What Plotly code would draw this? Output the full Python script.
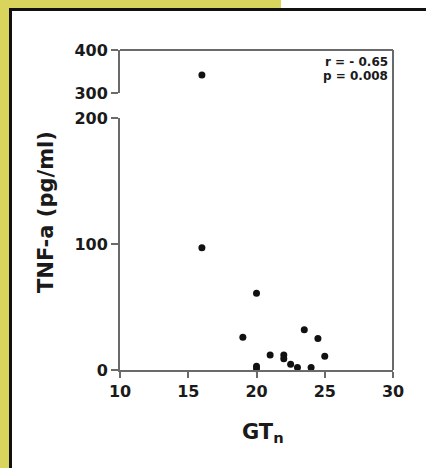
import plotly.graph_objects as go

# Data
gt_n = [16, 16, 20, 19, 23.5, 24.5, 21, 22, 22, 25, 22.5, 23, 24, 20, 20]
tnf_a = [342, 97, 61, 26, 32, 25, 12, 12, 9, 11, 4.5, 2, 2, 3, 1]
x_ticks = [10, 15, 20, 25, 30]
y_low_ticks = [0, 100, 200]
y_high_ticks = [300, 400]
stats_text = ["r = - 0.65", "p = 0.008"]
x_title = "GT<sub>n</sub>"
y_title = "TNF-a (pg/ml)"

W, H = 426, 468
def px(x):
    return x / W
def py(y):
    return 1 - y / H

x_left, x_right = 120, 393
y_top, y_break_hi, y_break_lo, y_bottom = 50, 93, 118, 370

low_x = [x for x, y in zip(gt_n, tnf_a) if y <= 200]
low_y = [y for y in tnf_a if y <= 200]
high_x = [x for x, y in zip(gt_n, tnf_a) if y > 200]
high_y = [y for y in tnf_a if y > 200]

font = dict(family="DejaVu Sans, Arial, sans-serif", color="#1a1a1a", weight="bold")
axcol = "#6a6a6a"

fig = go.Figure()
fig.add_trace(go.Scatter(x=low_x, y=low_y, mode="markers", xaxis="x", yaxis="y",
                         marker=dict(color="#111", size=7), cliponaxis=False, showlegend=False))
fig.add_trace(go.Scatter(x=high_x, y=high_y, mode="markers", xaxis="x", yaxis="y2",
                         marker=dict(color="#111", size=7), cliponaxis=False, showlegend=False))

common = dict(showgrid=False, zeroline=False, showline=True, linecolor=axcol, linewidth=2,
              ticks="outside", tickwidth=2, tickcolor=axcol, automargin=False,
              tickfont=dict(size=16, **font))

fig.update_layout(
    width=W, height=H, margin=dict(l=0, r=0, t=0, b=0, pad=0, autoexpand=False),
    template="none",
    paper_bgcolor="white", plot_bgcolor="white",
    xaxis=dict(domain=[px(x_left), px(x_right)], range=[10, 30], tickvals=x_ticks,
               ticklen=6, anchor="y", **common),
    yaxis=dict(domain=[py(y_bottom), py(y_break_lo)], range=[0, 200], tickvals=y_low_ticks,
               ticklen=7, anchor="x", **common),
    yaxis2=dict(domain=[py(y_break_hi), py(y_top)], range=[300, 400], tickvals=y_high_ticks,
                ticklen=7, anchor="x", **common),
)

shapes = [
    # yellow frame pieces
    dict(type="rect", xref="paper", yref="paper", x0=0, x1=px(9), y0=0, y1=1,
         fillcolor="#d8d45c", line=dict(width=0)),
    dict(type="rect", xref="paper", yref="paper", x0=0, x1=px(281), y0=py(8), y1=1,
         fillcolor="#d8d45c", line=dict(width=0)),
    # black border
    dict(type="rect", xref="paper", yref="paper", x0=px(9), x1=px(12), y0=0, y1=py(8),
         fillcolor="#111", line=dict(width=0)),
    dict(type="rect", xref="paper", yref="paper", x0=px(9), x1=1, y0=py(11), y1=py(8),
         fillcolor="#111", line=dict(width=0)),
    # plot frame top and right
    dict(type="line", xref="paper", yref="paper", x0=px(x_left), x1=px(x_right),
         y0=py(y_top), y1=py(y_top), line=dict(color=axcol, width=2)),
    dict(type="line", xref="paper", yref="paper", x0=px(x_right), x1=px(x_right),
         y0=py(y_top), y1=py(y_bottom), line=dict(color=axcol, width=2)),
]
fig.update_layout(shapes=shapes)

fig.add_annotation(xref="paper", yref="paper", x=px(46), y=py(212), text=y_title,
                   textangle=-90, showarrow=False, font=dict(size=21, **font),
                   xanchor="center", yanchor="middle")
fig.add_annotation(xref="paper", yref="paper", x=px(263), y=py(433), text=x_title,
                   showarrow=False, font=dict(size=21, **font),
                   xanchor="center", yanchor="middle")
for i, t in enumerate(stats_text):
    fig.add_annotation(xref="paper", yref="paper", x=px(390), y=py(62 + i * 14), text=t,
                       showarrow=False, font=dict(size=12, **font),
                       xanchor="right", yanchor="middle")

fig.write_html("out.html", config={"displayModeBar": False},
               post_script="document.body.style.margin='0';")
